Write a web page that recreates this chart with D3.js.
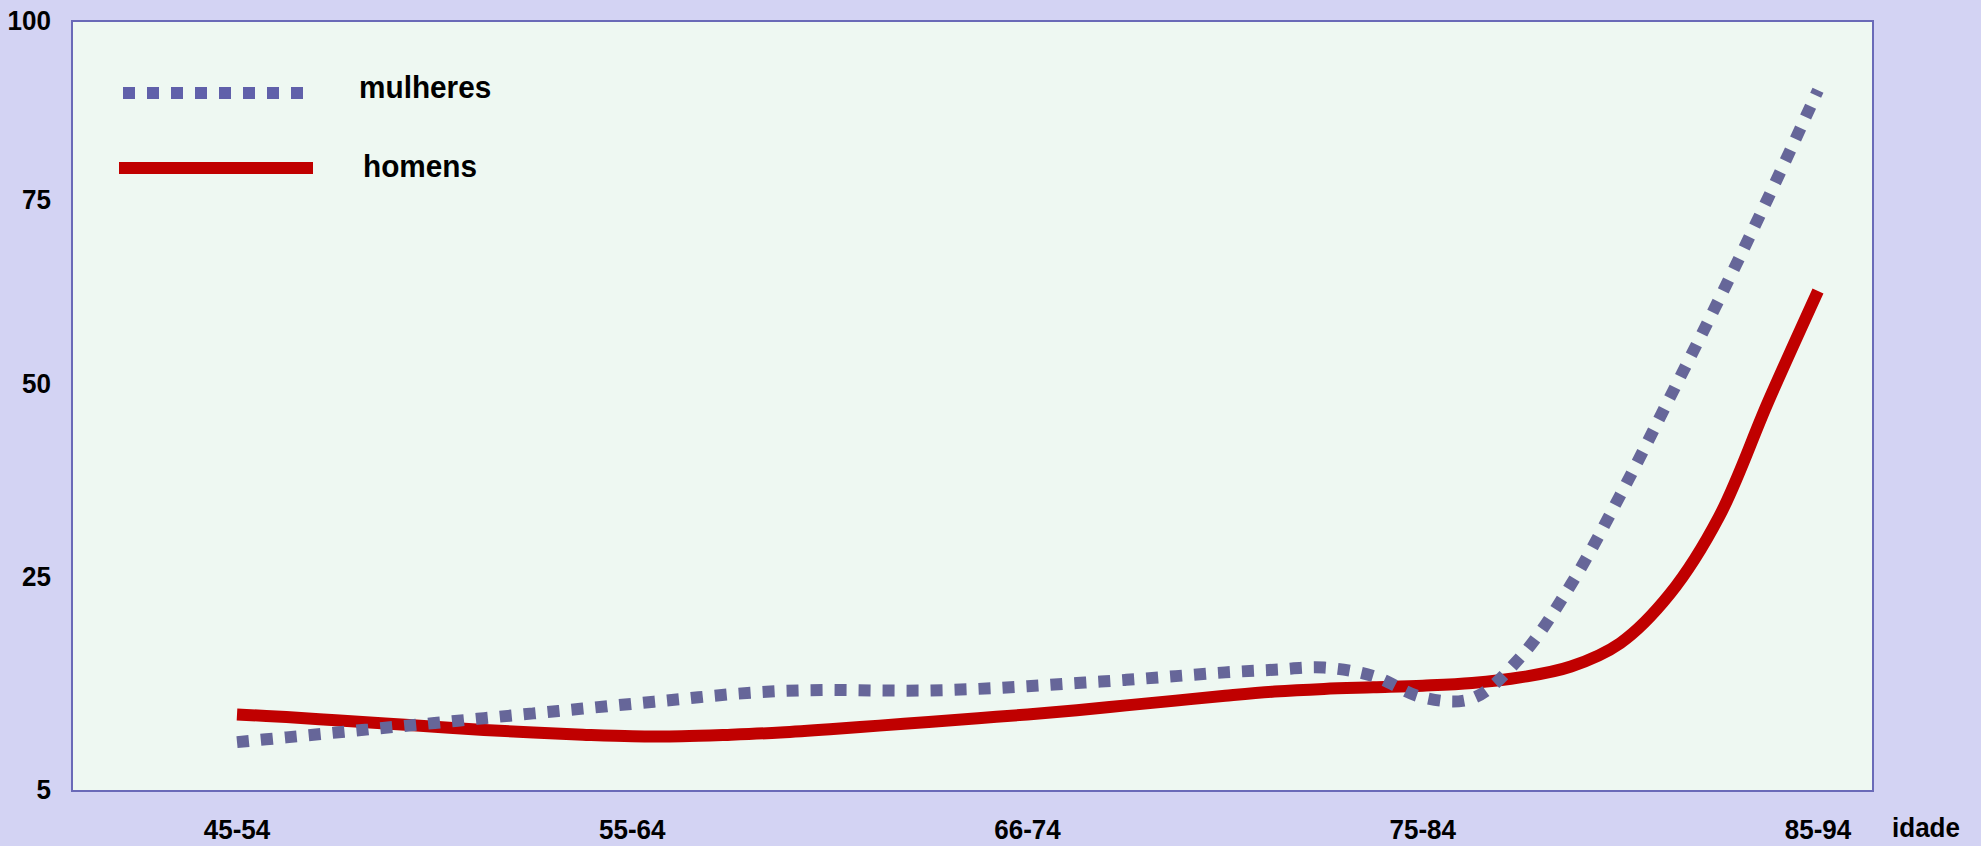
<!DOCTYPE html>
<html><head><meta charset="utf-8">
<script src="https://cdn.jsdelivr.net/npm/d3@7"></script>
<style>
html,body{margin:0;padding:0;background:#d3d3f3;}
svg{display:block;}
text{font-family:"Liberation Sans",Arial,sans-serif;font-weight:bold;fill:#000;}
</style></head>
<body>
<svg id="chart" width="1981" height="846"></svg>
<script>
// ---- data ----
const categories = ["45-54", "55-64", "66-74", "75-84", "85-94"];
const xTitle = "idade";
const yTicks = [5, 25, 50, 75, 100];
// sample positions along the age axis (category index units)
const agePos = [0, 0.125, 0.25, 0.375, 0.5, 0.625, 0.75, 0.875, 1, 1.125, 1.25, 1.375, 1.5, 1.625, 1.75, 1.875,
  2, 2.125, 2.25, 2.375, 2.5, 2.625, 2.75, 2.875, 3, 3.125, 3.25, 3.375, 3.5, 3.625, 3.75, 3.875, 4];
const mulheres = [9.4, 9.85, 10.3, 10.75, 11.2, 11.65, 12.1, 12.55, 13.0, 13.45, 13.9, 14.2, 14.3, 14.25, 14.25, 14.4,
  14.65, 14.95, 15.25, 15.6, 15.95, 16.2, 16.4, 15.6, 13.6, 13.5, 17.5, 24.2, 35.5, 48.1, 61.4, 75.3, 90.2];
const homens = [12.0, 11.75, 11.45, 11.15, 10.85, 10.55, 10.3, 10.1, 9.95, 9.95, 10.1, 10.3, 10.6, 10.95, 11.3, 11.65,
  12.0, 12.4, 12.85, 13.3, 13.75, 14.15, 14.4, 14.55, 14.7, 14.95, 15.5, 16.5, 18.7, 23.3, 32.7, 47.7, 62.5];
const seriesNames = ["mulheres", "homens"];

// ---- layout ----
const svg = d3.select("#chart");
const plot = {left: 72, top: 21, right: 1873, bottom: 791};
const colors = {mulheres: "#666699", homens: "#c00000"};

const x = d3.scaleLinear().domain([0, categories.length - 1]).range([237, 1818]);
const y = d3.scaleLinear().domain(yTicks).range([789, 576, 383, 199, 20]);

svg.append("rect").attr("x", 0).attr("y", 0).attr("width", 1981).attr("height", 846).attr("fill", "#d3d3f3");
svg.append("rect")
  .attr("x", plot.left).attr("y", plot.top)
  .attr("width", plot.right - plot.left).attr("height", plot.bottom - plot.top)
  .attr("fill", "#eef8f2").attr("stroke", "#6a6ab8").attr("stroke-width", 2);

const sx = 0.93;
function label(g, txt, px, py, size, anchor) {
  const t = g.append("g").attr("transform", `translate(${px},${py}) scale(${sx},1)`);
  t.append("text").attr("x", 0).attr("y", 0).attr("dy", "0.35em")
    .attr("text-anchor", anchor).attr("font-size", size).text(txt);
}

// y tick labels
const yg = svg.append("g");
yTicks.forEach(v => label(yg, v, 51, y(v), 28, "end"));

// x tick labels
const xg = svg.append("g");
categories.forEach((c, i) => label(xg, c, x(i), 829, 28, "middle"));
label(xg, xTitle, 1926, 827, 28, "middle");

// lines
const line = d3.line()
  .x(d => x(d[0]))
  .y(d => y(d[1]))
  .curve(d3.curveCatmullRom.alpha(0.5));

const dataM = agePos.map((p, i) => [p, mulheres[i]]);
const dataH = agePos.map((p, i) => [p, homens[i]]);

svg.append("path").datum(dataH).attr("d", line)
  .attr("fill", "none").attr("stroke", colors.homens).attr("stroke-width", 12);
svg.append("path").datum(dataM).attr("d", line)
  .attr("fill", "none").attr("stroke", colors.mulheres).attr("stroke-width", 12)
  .attr("stroke-dasharray", "12,12");

// legend
const lg = svg.append("g");
lg.append("line").attr("x1", 123).attr("x2", 306).attr("y1", 93).attr("y2", 93)
  .attr("stroke", "#6060aa").attr("stroke-width", 12).attr("stroke-dasharray", "12,12");
lg.append("line").attr("x1", 119).attr("x2", 313).attr("y1", 168).attr("y2", 168)
  .attr("stroke", colors.homens).attr("stroke-width", 12);
label(lg, seriesNames[0], 359, 87, 32, "start");
label(lg, seriesNames[1], 363, 166, 32, "start");
</script>
</body></html>
